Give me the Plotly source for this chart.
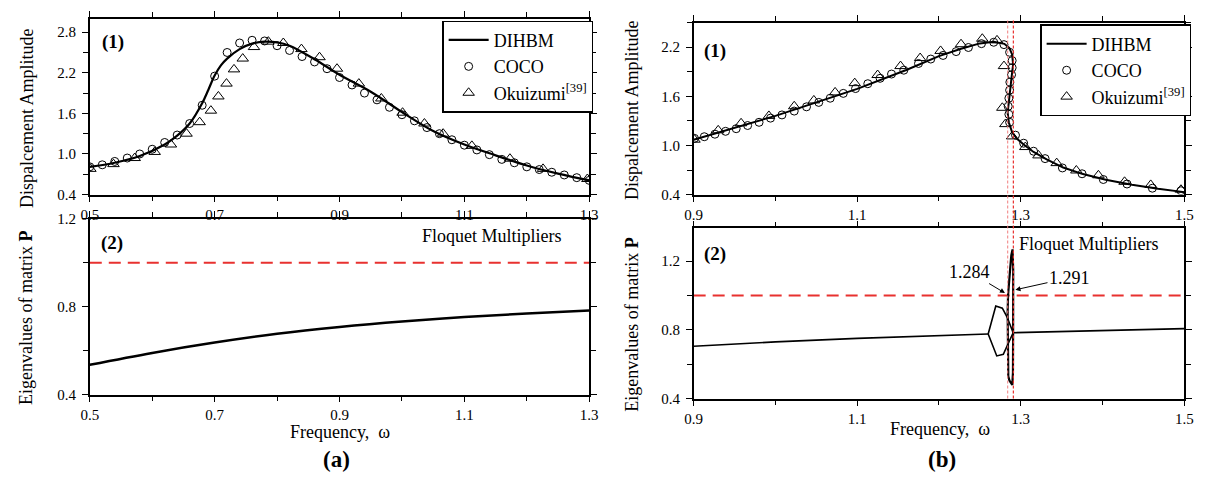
import plotly.graph_objects as go

W, H = 1210, 481
FONT = "Liberation Serif, Times New Roman, serif"

# ---------------- data: panel (a) ----------------
a_dihbm_x = [0.50, 0.54, 0.58, 0.62, 0.64, 0.66, 0.68, 0.69, 0.70, 0.71, 0.72, 0.74, 0.76, 0.78, 0.80,
             0.82, 0.86, 0.90, 0.95, 1.00, 1.05, 1.10, 1.15, 1.20, 1.25, 1.30]
a_dihbm_y = [0.81, 0.87, 0.97, 1.14, 1.27, 1.45, 1.75, 1.95, 2.16, 2.31, 2.41, 2.55, 2.63, 2.66, 2.65,
             2.60, 2.40, 2.17, 1.92, 1.62, 1.34, 1.14, 0.98, 0.83, 0.71, 0.61]
a_coco_x = [0.50, 0.52, 0.54, 0.56, 0.58, 0.60, 0.62, 0.64, 0.66, 0.68, 0.70, 0.72, 0.74, 0.76, 0.78,
            0.80, 0.82, 0.84, 0.86, 0.88, 0.90, 0.92, 0.94, 0.96, 0.98, 1.00, 1.02, 1.04, 1.06, 1.08,
            1.10, 1.12, 1.14, 1.16, 1.18, 1.20, 1.22, 1.24, 1.26, 1.28, 1.30]
a_coco_y = [0.81, 0.84, 0.89, 0.94, 1.00, 1.07, 1.17, 1.28, 1.45, 1.72, 2.15, 2.50, 2.64, 2.68, 2.67,
            2.60, 2.53, 2.44, 2.36, 2.26, 2.13, 2.02, 1.90, 1.80, 1.69, 1.58, 1.49, 1.39, 1.30, 1.21,
            1.13, 1.06, 0.99, 0.92, 0.87, 0.81, 0.77, 0.73, 0.69, 0.65, 0.61]
a_oku_x = [0.501, 0.538, 0.572, 0.604, 0.630, 0.655, 0.676, 0.694, 0.706, 0.719, 0.731, 0.745, 0.763,
           0.786, 0.810, 0.839, 0.868, 0.896, 0.931, 0.967, 1.001, 1.036, 1.066, 1.112, 1.173, 1.226, 1.297]
a_oku_y = [0.78, 0.85, 0.94, 1.03, 1.14, 1.30, 1.47, 1.64, 1.85, 2.04, 2.25, 2.41, 2.58,
           2.66, 2.64, 2.55, 2.43, 2.26, 2.04, 1.82, 1.61, 1.45, 1.30, 1.12, 0.93, 0.78, 0.63]
a_mult_x = [0.5, 0.6, 0.7, 0.8, 0.9, 1.0, 1.1, 1.2, 1.3]
a_mult_y = [0.536, 0.590, 0.637, 0.677, 0.708, 0.733, 0.753, 0.769, 0.783]

# ---------------- data: panel (b) ----------------
b_dihbm_x = [0.90, 1.00, 1.10, 1.16, 1.20, 1.227, 1.25, 1.267, 1.280, 1.286, 1.2895, 1.2907, 1.2888,
             1.2867, 1.2847, 1.2840, 1.2855, 1.2895, 1.2955, 1.3036, 1.3157, 1.3317, 1.352, 1.376,
             1.404, 1.436, 1.468, 1.50]
b_dihbm_y = [1.07, 1.36, 1.69, 1.92, 2.09, 2.18, 2.245, 2.265, 2.24, 2.19, 2.11, 1.99, 1.83,
             1.67, 1.52, 1.40, 1.28, 1.16, 1.08, 1.01, 0.92, 0.83, 0.73, 0.65,
             0.58, 0.52, 0.47, 0.43]
b_coco_x = [0.901, 0.913, 0.926, 0.939, 0.952, 0.966, 0.980, 0.994, 1.008, 1.023, 1.038, 1.053, 1.067,
            1.083, 1.098, 1.113, 1.128, 1.142, 1.157, 1.175, 1.190, 1.205, 1.221, 1.236, 1.252, 1.267,
            1.2795, 1.2864, 1.2895, 1.2895, 1.2888, 1.2867, 1.2864, 1.2855, 1.2847, 1.2855, 1.2864,
            1.2936, 1.3036, 1.3157, 1.3298, 1.351, 1.375, 1.401, 1.430, 1.461, 1.496]
b_coco_y = [1.086, 1.106, 1.137, 1.172, 1.204, 1.243, 1.282, 1.333, 1.372, 1.419, 1.471, 1.525, 1.576,
            1.635, 1.694, 1.753, 1.819, 1.871, 1.918, 2.000, 2.054, 2.098, 2.145, 2.195, 2.242, 2.259,
            2.23, 2.137, 2.035, 1.948, 1.862, 1.772, 1.674, 1.576, 1.478, 1.38, 1.282,
            1.125, 1.027, 0.929, 0.839, 0.725, 0.654, 0.584, 0.529, 0.478, 0.447]
b_oku_x = [0.901, 0.930, 0.958, 0.992, 1.023, 1.047, 1.073, 1.097, 1.125, 1.153, 1.177, 1.202, 1.227,
           1.253, 1.271, 1.2795, 1.2775, 1.2812, 1.2895, 1.3056, 1.3217, 1.344, 1.368, 1.395, 1.427,
           1.459, 1.496]
b_oku_y = [1.07, 1.184, 1.27, 1.36, 1.478, 1.549, 1.647, 1.76, 1.859, 1.968, 2.066, 2.153, 2.235,
           2.302, 2.282, 1.968, 1.459, 1.26, 1.11, 0.98, 0.878, 0.784, 0.694, 0.635, 0.556,
           0.518, 0.459]
b_main_left_x = [0.9, 1.0, 1.1, 1.2, 1.2602]
b_main_left_y = [0.704, 0.730, 0.750, 0.766, 0.776]
b_hex_up_x = [1.2602, 1.2695, 1.2775, 1.2835, 1.2907]
b_hex_up_y = [0.776, 0.939, 0.926, 0.873, 0.783]
b_hex_lo_x = [1.2602, 1.2707, 1.2787, 1.2907]
b_hex_lo_y = [0.776, 0.648, 0.657, 0.783]
b_loop_x = [1.2907, 1.2912, 1.2908, 1.2900, 1.2885, 1.2870, 1.2855, 1.2845, 1.2840, 1.2840, 1.2842,
            1.2848, 1.2862, 1.2880, 1.2897, 1.2905, 1.2910, 1.2907]
b_loop_y = [0.783, 1.0, 1.15, 1.268, 1.235, 1.15, 1.05, 1.0, 0.9, 0.7, 0.6,
            0.53, 0.505, 0.49, 0.48, 0.55, 0.68, 0.783]
b_main_right_x = [1.2907, 1.35, 1.40, 1.45, 1.50]
b_main_right_y = [0.783, 0.791, 0.797, 0.802, 0.807]

unity = 1.0
fold_freqs = [1.284, 1.291]
fold_labels = ["1.284", "1.291"]

# ---------------- figure ----------------
def px(x):
    return x / W

def py(y):
    return 1 - y / H

fig = go.Figure()
BLK = "black"
RED = "#e8312f"

def curve(x, y, xa, ya, w=2.0, name=None, show=False, legend="legend", shape="linear"):
    fig.add_trace(go.Scatter(x=x, y=y, mode="lines", line=dict(color=BLK, width=w, shape=shape),
                             name=name, showlegend=show, legend=legend, xaxis=xa, yaxis=ya,
                             hoverinfo="skip"))

def marks(x, y, xa, ya, sym, size, name, legend):
    fig.add_trace(go.Scatter(x=x, y=y, mode="markers",
                             marker=dict(symbol=sym, size=size, color=BLK, line=dict(color=BLK, width=1)),
                             name=name, showlegend=True, legend=legend, xaxis=xa, yaxis=ya))

# panel a top
curve(a_dihbm_x, a_dihbm_y, "x", "y", 2.2, "DIHBM", True, "legend", "spline")
marks(a_coco_x, a_coco_y, "x", "y", "circle-open", 8, "COCO", "legend")
marks(a_oku_x, a_oku_y, "x", "y", "triangle-up-open", 10, "Okuizumi<sup>[39]</sup>", "legend")
# panel b top
curve(b_dihbm_x, b_dihbm_y, "x2", "y2", 2.0, "DIHBM", True, "legend2")
marks(b_coco_x, b_coco_y, "x2", "y2", "circle-open", 8, "COCO", "legend2")
marks(b_oku_x, b_oku_y, "x2", "y2", "triangle-up-open", 10, "Okuizumi<sup>[39]</sup>", "legend2")
# panel a bottom
fig.add_trace(go.Scatter(x=[a_mult_x[0], a_mult_x[-1]], y=[unity, unity], mode="lines",
                         line=dict(color=RED, width=2, dash="12px,7px"), showlegend=False,
                         xaxis="x3", yaxis="y3"))
curve(a_mult_x, a_mult_y, "x3", "y3", 2.5, shape="spline")
# panel b bottom
fig.add_trace(go.Scatter(x=[b_main_left_x[0], b_main_right_x[-1]], y=[unity, unity], mode="lines",
                         line=dict(color=RED, width=2, dash="12px,7px"), showlegend=False,
                         xaxis="x4", yaxis="y4"))
curve(b_main_left_x, b_main_left_y, "x4", "y4", 1.6)
curve(b_hex_up_x, b_hex_up_y, "x4", "y4", 1.6)
curve(b_hex_lo_x, b_hex_lo_y, "x4", "y4", 1.6)
curve(b_loop_x, b_loop_y, "x4", "y4", 2.2)
curve(b_main_right_x, b_main_right_y, "x4", "y4", 1.6)

# domains (pixels)
A_X = [px(82), px(589)]
B_X = [px(695), px(1193)]
A_TOP = [py(193), py(11)]
A_BOT = [py(400), py(218)]
B_TOP = [py(193), py(15)]
B_BOT = [py(404), py(228)]

TICKFONT = dict(family=FONT, size=15, color=BLK)

def xax(dom, rng, anchor, minor_dt=0.1):
    return dict(domain=dom, range=rng, anchor=anchor, dtick=0.2, tick0=0.1, showgrid=False,
                zeroline=False, showline=True, linecolor=BLK, linewidth=1.5, mirror="ticks",
                ticks="outside", ticklen=6, tickwidth=1.2, tickcolor=BLK, tickformat=".1f",
                minor=dict(dtick=minor_dt, tick0=0.1, ticks="outside", ticklen=5, tickwidth=1.2,
                           tickcolor=BLK, showgrid=False),
                tickfont=TICKFONT, ticklabelstandoff=0)

def yax(dom, rng, anchor, dt, mdt, t0):
    return dict(domain=dom, range=rng, anchor=anchor, dtick=dt, tick0=t0, showgrid=False,
                zeroline=False, showline=True, linecolor=BLK, linewidth=1.5, mirror="ticks",
                ticks="outside", ticklen=6, tickwidth=1.2, tickcolor=BLK, tickformat=".1f",
                minor=dict(dtick=mdt, tick0=t0, ticks="outside", ticklen=5, tickwidth=1.2,
                           tickcolor=BLK, showgrid=False),
                tickfont=TICKFONT, ticklabelstandoff=3)

legend_common = dict(bgcolor="white", bordercolor=BLK, borderwidth=1.2,
                     font=dict(family=FONT, size=18, color=BLK), xanchor="left", yanchor="top",
                     itemwidth=40, tracegroupgap=0)

fig.update_layout(
    width=W, height=H, margin=dict(l=0, r=0, t=0, b=0),
    paper_bgcolor="white", plot_bgcolor="white",
    font=dict(family=FONT, color=BLK, size=15),
    xaxis=xax(A_X, [0.5, 1.3], "y"),
    yaxis=yax(A_TOP, [0.4, 3.0], "x", 0.6, 0.3, 0.4),
    xaxis2=xax(B_X, [0.9, 1.5], "y2"),
    yaxis2=yax(B_TOP, [0.4, 2.5], "x2", 0.6, 0.3, 0.4),
    xaxis3=xax(A_X, [0.5, 1.3], "y3"),
    yaxis3=yax(A_BOT, [0.4, 1.2], "x3", 0.4, 0.2, 0.4),
    xaxis4=xax(B_X, [0.9, 1.5], "y4"),
    yaxis4=yax(B_BOT, [0.4, 1.39], "x4", 0.4, 0.2, 0.4),
    legend=dict(x=px(440), y=py(13), **legend_common),
    legend2=dict(x=px(1047), y=py(17), **legend_common),
)

# vertical fold lines spanning both (b) panels
for f, col in zip(fold_freqs, ["rgba(240,120,120,0.8)", RED]):
    fig.add_shape(type="line", xref="x2", yref="paper", x0=f, x1=f, y0=py(404), y1=py(13),
                  line=dict(color=col, width=1.2, dash="3px,2px"), layer="above")

ann = []
def text(x, y, t, size=17, bold=False, angle=0):
    ann.append(dict(x=px(x), y=py(y), xref="paper", yref="paper", text=(f"<b>{t}</b>" if bold else t),
                    showarrow=False, textangle=angle, font=dict(family=FONT, size=size, color=BLK),
                    xanchor="center", yanchor="middle"))

text(18, 114, "Dispalcement Amplitude", 18, angle=-90)
text(18, 321, "Eigenvalues of matrix <b>P</b>", 18, angle=-90)
text(633, 106, "Dispalcement Amplitude", 18, angle=-90)
text(633, 328, "Eigenvalues of matrix <b>P</b>", 18, angle=-90)
text(336, 439, "Frequency,  ω", 18)
text(945, 435, "Frequency,  ω", 18)
text(332, 467, "(a)", 23, bold=True)
text(947, 467, "(b)", 23, bold=True)
text(106, 35, "(1)", 19, bold=True)
text(105, 243, "(2)", 19, bold=True)
text(717, 44, "(1)", 19, bold=True)
text(717, 254, "(2)", 19, bold=True)
text(490, 236, "Floquet Multipliers", 18)
text(1096, 244, "Floquet Multipliers", 18)

# arrows to fold crossings
ann.append(dict(x=1.2807, y=1.014, xref="x4", yref="y4", text=fold_labels[0], showarrow=True,
                arrowhead=2, arrowsize=1, arrowwidth=1, arrowcolor=BLK, ax=-35, ay=-21,
                font=dict(family=FONT, size=18, color=BLK)))
ann.append(dict(x=1.2936, y=1.033, xref="x4", yref="y4", text=fold_labels[1], showarrow=True,
                arrowhead=2, arrowsize=1, arrowwidth=1, arrowcolor=BLK, ax=54, ay=-12,
                font=dict(family=FONT, size=18, color=BLK)))
fig.update_layout(annotations=ann)

fig.write_html("out.html")
